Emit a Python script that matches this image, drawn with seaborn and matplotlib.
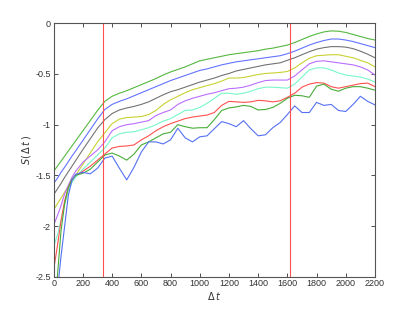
import numpy as np
import pandas as pd
import matplotlib
matplotlib.use("Agg")
import matplotlib.pyplot as plt
import seaborn as sns

dt = [0, 25, 50, 75, 100, 125, 150, 200, 250, 300, 350, 400, 450, 500, 550, 600,
      650, 700, 750, 800, 850, 900, 950, 1000, 1050, 1100, 1150, 1200, 1250, 1300,
      1350, 1400, 1450, 1500, 1550, 1600, 1650, 1700, 1750, 1800, 1850, 1900, 1950,
      2000, 2050, 2100, 2150, 2200]

s_green_top = [-1.46, -1.41, -1.36, -1.31, -1.26, -1.21, -1.16, -1.06, -0.96, -0.86, -0.77, -0.72,
               -0.69, -0.665, -0.635, -0.605, -0.575, -0.545, -0.51, -0.48, -0.455, -0.43, -0.40,
               -0.37, -0.355, -0.34, -0.325, -0.31, -0.30, -0.29, -0.28, -0.27, -0.255, -0.245,
               -0.23, -0.215, -0.19, -0.16, -0.13, -0.105, -0.085, -0.075, -0.078, -0.09, -0.11,
               -0.13, -0.15, -0.165]
s_blue_top = [-1.58, -1.53, -1.47, -1.42, -1.365, -1.31, -1.26, -1.155, -1.05, -0.945, -0.85, -0.80,
              -0.77, -0.745, -0.715, -0.685, -0.655, -0.625, -0.595, -0.565, -0.54, -0.515, -0.49,
              -0.465, -0.45, -0.43, -0.41, -0.395, -0.38, -0.37, -0.36, -0.35, -0.34, -0.33,
              -0.32, -0.30, -0.275, -0.245, -0.215, -0.19, -0.17, -0.155, -0.155, -0.165, -0.18,
              -0.20, -0.22, -0.24]
s_gray = [-1.69, -1.635, -1.58, -1.52, -1.465, -1.41, -1.355, -1.245, -1.14, -1.035, -0.95, -0.89,
          -0.855, -0.835, -0.82, -0.80, -0.775, -0.74, -0.705, -0.675, -0.655, -0.63, -0.605,
          -0.58, -0.56, -0.54, -0.515, -0.495, -0.47, -0.455, -0.44, -0.425, -0.41, -0.40,
          -0.39, -0.365, -0.34, -0.31, -0.28, -0.255, -0.24, -0.23, -0.23, -0.235, -0.25,
          -0.275, -0.305, -0.34]
s_yellow = [-1.84, -1.78, -1.725, -1.665, -1.61, -1.555, -1.50, -1.39, -1.28, -1.17, -1.08, -0.99,
            -0.945, -0.93, -0.925, -0.92, -0.90, -0.86, -0.80, -0.755, -0.72, -0.685, -0.655,
            -0.635, -0.615, -0.595, -0.57, -0.54, -0.54, -0.535, -0.52, -0.505, -0.495, -0.49,
            -0.485, -0.475, -0.44, -0.39, -0.345, -0.32, -0.315, -0.31, -0.31, -0.325, -0.34,
            -0.365, -0.39, -0.43]
s_purple = [-1.99, -1.90, -1.80, -1.68, -1.60, -1.52, -1.46, -1.37, -1.31, -1.25, -1.17, -1.06,
            -1.02, -1.00, -0.99, -0.975, -0.96, -0.91, -0.88, -0.855, -0.80, -0.765, -0.74,
            -0.72, -0.70, -0.685, -0.665, -0.645, -0.64, -0.63, -0.61, -0.585, -0.565, -0.56,
            -0.56, -0.56, -0.52, -0.46, -0.40, -0.375, -0.37, -0.38, -0.39, -0.40, -0.41,
            -0.43, -0.46, -0.51]
s_cyan = [-2.20, -2.09, -1.94, -1.79, -1.65, -1.57, -1.52, -1.44, -1.37, -1.30, -1.23, -1.13,
          -1.09, -1.075, -1.07, -1.05, -1.03, -1.00, -0.965, -0.94, -0.90, -0.86, -0.855,
          -0.83, -0.79, -0.74, -0.69, -0.69, -0.70, -0.69, -0.67, -0.645, -0.63, -0.63,
          -0.635, -0.64, -0.60, -0.53, -0.46, -0.44, -0.44, -0.46, -0.49, -0.51, -0.52,
          -0.53, -0.55, -0.58]
s_red = [-2.43, -2.20, -1.95, -1.75, -1.62, -1.54, -1.50, -1.46, -1.41, -1.35, -1.29, -1.23,
         -1.215, -1.21, -1.20, -1.15, -1.11, -1.06, -1.02, -0.99, -0.965, -0.94, -0.925,
         -0.915, -0.905, -0.88, -0.81, -0.77, -0.775, -0.78, -0.775, -0.76, -0.765, -0.775,
         -0.765, -0.73, -0.69, -0.63, -0.60, -0.585, -0.59, -0.625, -0.64, -0.625, -0.61,
         -0.595, -0.59, -0.625]
s_green_low = [-2.90, -2.50, -2.05, -1.78, -1.62, -1.54, -1.50, -1.48, -1.44, -1.37, -1.30, -1.28,
               -1.31, -1.35, -1.29, -1.20, -1.17, -1.13, -1.09, -1.075, -1.00, -1.02, -1.035,
               -1.03, -1.03, -0.95, -0.86, -0.835, -0.825, -0.81, -0.82, -0.855, -0.85, -0.83,
               -0.79, -0.74, -0.71, -0.715, -0.73, -0.62, -0.60, -0.65, -0.67, -0.64, -0.625,
               -0.625, -0.64, -0.66]
s_blue_low = [-3.00, -2.65, -2.30, -2.00, -1.70, -1.55, -1.49, -1.47, -1.485, -1.43, -1.33, -1.31,
              -1.43, -1.545, -1.42, -1.27, -1.17, -1.17, -1.19, -1.15, -1.035, -1.13, -1.17,
              -1.12, -1.11, -1.04, -0.97, -0.99, -1.02, -0.96, -1.04, -1.11, -1.10, -1.03,
              -0.98, -0.90, -0.815, -0.88, -0.88, -0.78, -0.81, -0.80, -0.86, -0.87, -0.80,
              -0.72, -0.77, -0.805]

series = {
    "g1": s_green_top, "b1": s_blue_top, "k": s_gray, "y": s_yellow, "m": s_purple,
    "c": s_cyan, "r": s_red, "g2": s_green_low, "b2": s_blue_low,
}
colors = {
    "g1": "#55b840", "b1": "#6274ff", "k": "#737373", "y": "#c8d232", "m": "#bb6eff",
    "c": "#78f7c8", "r": "#ff5050", "g2": "#48ad38", "b2": "#5570f2",
}
vlines = [335, 1620]

df = pd.concat([pd.DataFrame({"dt": dt, "S": v, "curve": k}) for k, v in series.items()])

plt.rcParams["axes.unicode_minus"] = False
plt.rcParams["font.family"] = ["Liberation Sans", "DejaVu Sans"]
plt.rcParams["mathtext.fontset"] = "dejavusans"

fig = plt.figure(figsize=(4.15, 3.12), dpi=100)
ax = fig.add_axes([0.1294, 0.1131, 0.7742, 0.8122])
sns.lineplot(data=df, x="dt", y="S", hue="curve", palette=colors, legend=False,
             linewidth=0.8, ax=ax, estimator=None, sort=False)
for v in vlines:
    ax.axvline(v, color="#ff5050", linewidth=0.8)

ax.set_xlim(0, 2200)
ax.set_ylim(-2.5, 0)
ax.set_xticks(np.arange(0, 2201, 200))
ax.set_yticks([-2.5, -2, -1.5, -1, -0.5, 0])
ax.set_yticklabels(["-2.5", "-2", "-1.5", "-1", "-0.5", "0"])
ax.tick_params(direction="in", length=3, width=0.6, labelsize=6.5, top=True, right=True,
               colors="#333333", pad=2)
for sp in ax.spines.values():
    sp.set_color("#555555")
    sp.set_linewidth(0.8)
ax.set_xlabel(r"$\Delta\,t$", fontsize=7, labelpad=1, color="#333333")
ax.set_ylabel(r"$S(\,\Delta\,t\,)$", fontsize=7, labelpad=2, color="#333333")
fig.savefig("out.png", dpi=100)
